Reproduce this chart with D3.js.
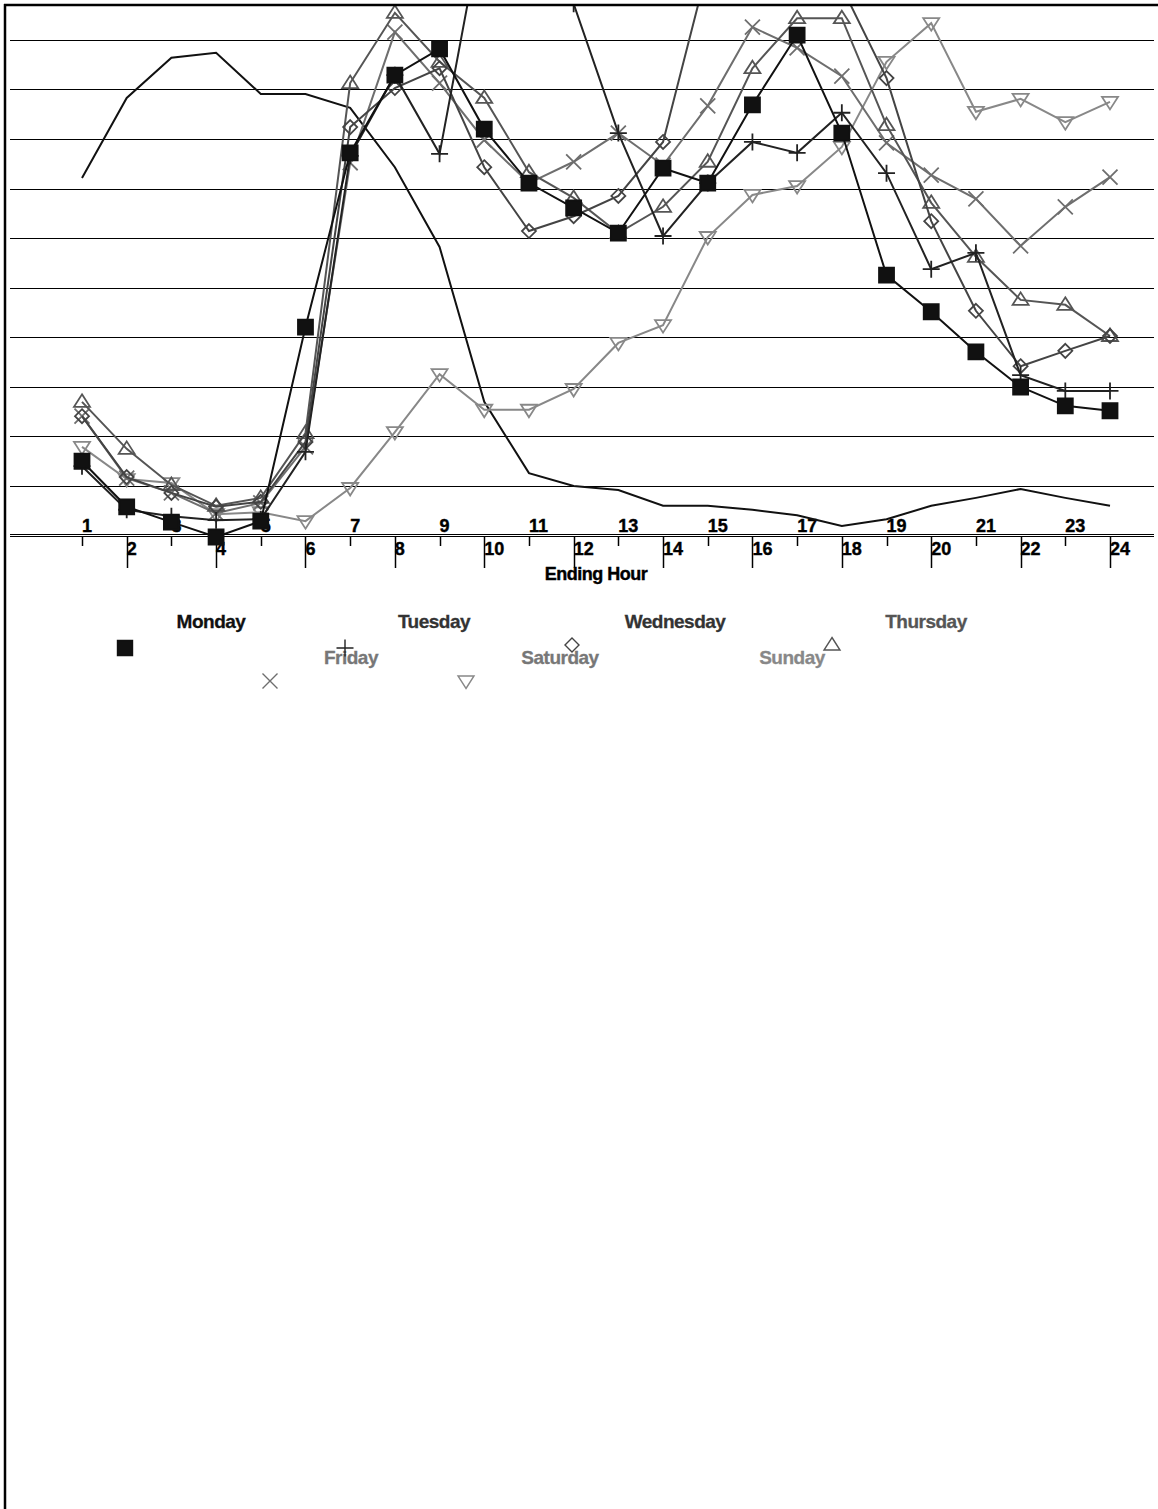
<!DOCTYPE html>
<html>
<head>
<meta charset="utf-8">
<script src="https://cdnjs.cloudflare.com/ajax/libs/d3/7.8.5/d3.min.js"></script>
<style>
  body { margin: 0; background: #fff; }
  text { font-family: Arial, "Liberation Sans", sans-serif; font-weight: bold; }
</style>
</head>
<body>
<div id="chart"></div>
<script>
// ending hour categories
var hours = [1,2,3,4,5,6,7,8,9,10,11,12,13,14,15,16,17,18,19,20,21,22,23,24];
var gridValues = [10,20,30,40,50,60,70,80,90,100];

// series values (some run past the top of the plot)
var monday    = [14.9,5.7,2.6,-0.4,2.8,42.0,77.2,92.9,98.2,82.0,71.1,66.1,61.0,74.1,71.1,86.9,101.0,81.2,52.5,45.1,37.0,29.9,26.1,25.1];
var tuesday   = [13.9,5.1,3.8,3.0,3.2,16.8,76.6,92.9,77.0,125.3,134.3,107.3,81.2,60.4,71.1,79.4,77.2,85.3,73.1,53.7,57.0,32.3,29.1,29.1];
var wednesday = [24.0,11.7,8.5,5.7,6.7,18.8,82.4,90.3,94.3,74.3,61.4,64.4,68.5,79.4,114.7,120.2,118.2,110.7,92.3,63.4,45.3,34.1,37.2,40.2];
var thursday  = [26.9,17.4,10.1,5.9,7.5,20.6,91.3,105.5,95.6,88.3,73.3,68.1,61.0,66.3,75.4,94.3,104.4,104.4,82.8,67.1,56.2,47.5,46.5,40.2];
var friday    = [24.0,11.5,8.5,4.4,6.5,17.8,75.2,101.6,91.3,79.8,71.1,75.4,81.2,74.7,86.7,102.6,98.4,92.7,79.2,72.7,67.9,58.4,66.3,72.3];
var saturday  = [17.8,11.3,10.5,4.2,4.6,2.8,9.5,20.8,32.5,25.3,25.3,29.5,38.8,42.4,60.2,68.7,70.5,78.4,95.6,103.4,85.5,88.1,83.4,87.5];
var sunday    = [72.1,88.3,96.4,97.4,89.1,89.1,86.3,74.3,58.2,26.9,12.5,9.9,9.1,5.9,5.9,5.1,4.0,1.8,3.2,5.9,7.5,9.3,7.5,5.9];

var dayNames = ["Monday","Tuesday","Wednesday","Thursday","Friday","Saturday","Sunday"];
var dayValues = [monday, tuesday, wednesday, thursday, friday, saturday, sunday];

var lineColors   = ["#111","#222","#444","#555","#6e6e6e","#888","#111"];
var textColors   = ["#111","#333","#333","#555","#777","#777","#888"];
var markerTypes  = ["square","plus","diamond","triangle","x","down",null];

var width = 1158, height = 1509;

var svg = d3.select("#chart")
  .append("svg")
    .attr("width", width)
    .attr("height", height);

var x = d3.scalePoint()
  .domain(hours)
  .range([82, 1110]);

var y = d3.scaleLinear()
  .domain([0, 100])
  .range([535, 40]);

svg.append("clipPath")
    .attr("id", "plotClip")
  .append("rect")
    .attr("x", 5).attr("y", 6)
    .attr("width", width - 5).attr("height", height - 6);

// grid
svg.append("g")
  .selectAll("line")
  .data(gridValues)
  .enter()
  .append("line")
    .attr("x1", 10).attr("x2", 1154)
    .attr("y1", function(d) { return Math.round(y(d)) + 0.5 })
    .attr("y2", function(d) { return Math.round(y(d)) + 0.5 })
    .attr("stroke", "#000")
    .attr("stroke-width", 1);

// x axis: double base line, staggered ticks and labels
var base = Math.round(y(0));
[base - 1, base + 1].forEach(function(yy) {
  svg.append("line")
    .attr("x1", 10).attr("x2", 1154)
    .attr("y1", yy + 0.5).attr("y2", yy + 0.5)
    .attr("stroke", "#000");
});

var axis = svg.append("g");
axis.selectAll("line")
  .data(hours)
  .enter()
  .append("line")
    .attr("x1", function(d) { return Math.round(x(d)) + 0.5 })
    .attr("x2", function(d) { return Math.round(x(d)) + 0.5 })
    .attr("y1", base + 1)
    .attr("y2", function(d) { return d % 2 ? base + 11 : base + 33 })
    .attr("stroke", "#000")
    .attr("stroke-width", 1.5);

axis.selectAll("text")
  .data(hours)
  .enter()
  .append("text")
    .attr("x", function(d) { return x(d) })
    .attr("y", function(d) { return d % 2 ? base - 3 : base + 20 })
    .attr("font-size", 18)
    .attr("fill", "#000")
    .attr("stroke", "#000")
    .attr("stroke-width", 0.4)
    .text(function(d) { return d });

svg.append("text")
  .attr("x", 596)
  .attr("y", 580)
  .attr("text-anchor", "middle")
  .attr("font-size", 18)
  .attr("letter-spacing", -0.5)
  .attr("stroke", "#000")
  .attr("stroke-width", 0.4)
  .text("Ending Hour");

// marker glyphs
function marker(type) {
  var p = d3.path();
  if (type == "square") {
    p.rect(-7.5, -7.5, 15, 15);
  } else if (type == "plus") {
    p.moveTo(-8.5, 0); p.lineTo(8.5, 0); p.moveTo(0, -8.5); p.lineTo(0, 8.5);
  } else if (type == "diamond") {
    p.moveTo(0, -7); p.lineTo(7, 0); p.lineTo(0, 7); p.lineTo(-7, 0); p.closePath();
  } else if (type == "triangle") {
    p.moveTo(0, -7.5); p.lineTo(8, 5); p.lineTo(-8, 5); p.closePath();
  } else if (type == "down") {
    p.moveTo(0, 7.5); p.lineTo(8, -5); p.lineTo(-8, -5); p.closePath();
  } else if (type == "x") {
    p.moveTo(-7.5, -7.5); p.lineTo(7.5, 7.5); p.moveTo(7.5, -7.5); p.lineTo(-7.5, 7.5);
  }
  return p.toString();
}

var plot = svg.append("g").attr("clip-path", "url(#plotClip)");

var line = d3.line()
  .x(function(d, i) { return x(hours[i]) })
  .y(function(d) { return y(d) });

// draw back to front so Monday ends on top
var order = [6, 5, 4, 3, 2, 1, 0];
order.forEach(function(k) {
  var g = plot.append("g");
  g.append("path")
    .datum(dayValues[k])
    .attr("d", line)
    .attr("fill", "none")
    .attr("stroke", lineColors[k])
    .attr("stroke-width", 2);

  if (markerTypes[k]) {
    g.selectAll("path.mk")
      .data(dayValues[k])
      .enter()
      .append("path")
        .attr("class", "mk")
        .attr("transform", function(d, i) { return "translate(" + x(hours[i]) + "," + y(d) + ")" })
        .attr("d", marker(markerTypes[k]))
        .attr("fill", markerTypes[k] == "square" ? lineColors[k] : "none")
        .attr("stroke", lineColors[k])
        .attr("stroke-width", 1.8);
  }
});

// frame
svg.append("line")
  .attr("x1", 4).attr("x2", width)
  .attr("y1", 5).attr("y2", 5)
  .attr("stroke", "#000").attr("stroke-width", 2.5);
svg.append("line")
  .attr("x1", 5).attr("x2", 5)
  .attr("y1", 4).attr("y2", height)
  .attr("stroke", "#000").attr("stroke-width", 2.5);

// legend (laid out the way the original one came out)
var legendText = [[211,628],[434,628],[675,628],[926,628],[351,664],[560,664],[792,664]];
var legendMark = [[125,648],[345,648],[572,645],[832,645],[270,681],[466,681],null];

var legend = svg.append("g");
legend.selectAll("text")
  .data(dayNames)
  .enter()
  .append("text")
    .attr("x", function(d, i) { return legendText[i][0] })
    .attr("y", function(d, i) { return legendText[i][1] })
    .attr("text-anchor", "middle")
    .attr("font-size", 19)
    .attr("letter-spacing", -0.5)
    .attr("fill", function(d, i) { return textColors[i] })
    .attr("stroke", function(d, i) { return textColors[i] })
    .attr("stroke-width", 0.3)
    .text(function(d) { return d });

dayNames.forEach(function(d, i) {
  if (!legendMark[i]) return;
  legend.append("path")
    .attr("transform", "translate(" + legendMark[i][0] + "," + legendMark[i][1] + ")")
    .attr("d", marker(markerTypes[i]))
    .attr("fill", markerTypes[i] == "square" ? lineColors[i] : "none")
    .attr("stroke", lineColors[i])
    .attr("stroke-width", 1.4);
});
</script>
</body>
</html>
